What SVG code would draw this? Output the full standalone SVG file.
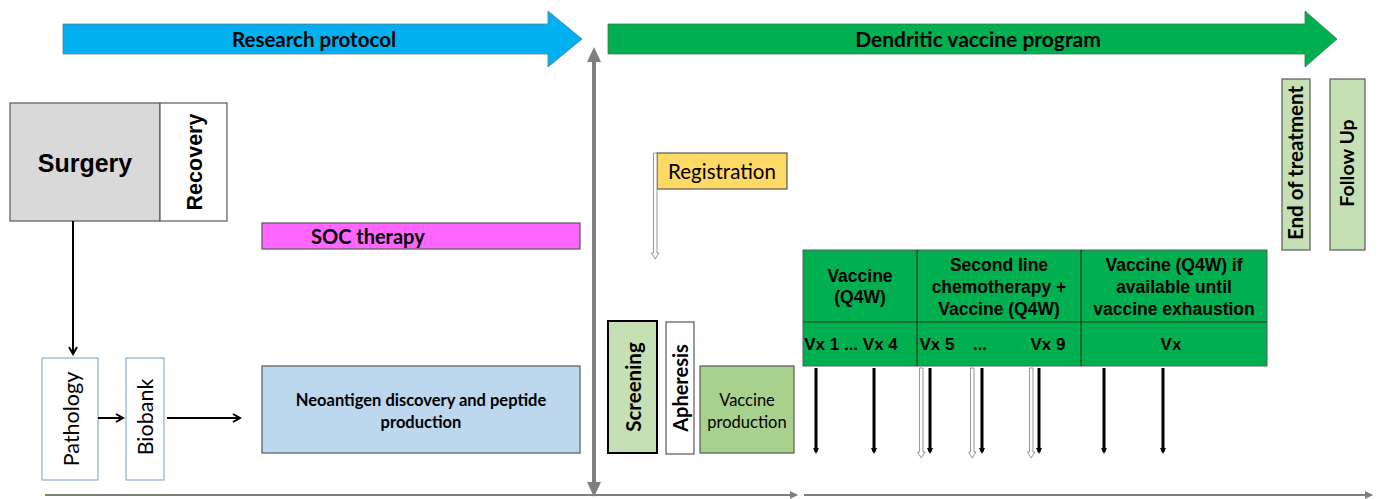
<svg xmlns="http://www.w3.org/2000/svg" width="1381" height="499" viewBox="0 0 1381 499">
<defs>
<style>
.a{font-family:"Liberation Sans",Arial,sans-serif}
.c{font-family:Lato,"Open Sans",sans-serif}
.b{font-weight:bold}
.box{stroke:#595959;stroke-width:1.2}
.hol{fill:#fff;stroke:#7f7f7f;stroke-width:0.8}
</style>
<marker id="ah" markerWidth="10" markerHeight="10" refX="8" refY="5" orient="auto" markerUnits="userSpaceOnUse"><path d="M1,1 L8,5 L1,9" fill="none" stroke="#000" stroke-width="2"/></marker>
<marker id="bt" markerWidth="8" markerHeight="8" refX="4" refY="4" orient="auto" markerUnits="userSpaceOnUse"><path d="M0,1 L6,4 L0,7 Z" fill="#000"/></marker>
<marker id="gt" markerWidth="10" markerHeight="10" refX="7" refY="5" orient="auto" markerUnits="userSpaceOnUse"><path d="M0,1 L8,5 L0,9 Z" fill="#7f7f7f"/></marker>
</defs>
<rect width="1381" height="499" fill="#fff"/>

<g id="research-protocol">
<path d="M63,24 H548 V11 L582,39 L548,67 V54 H63 Z" fill="#00b0f0" stroke="#5b7d93" stroke-width="0.8"/>
<text x="314" y="47" class="c b" font-size="20.5" text-anchor="middle">Research protocol</text>
</g>
<g id="dendritic-program">
<path d="M608,24 H1305 V11 L1337,39 L1305,67 V54 H608 Z" fill="#00b050" stroke="#3c7a4e" stroke-width="0.8"/>
<text x="978" y="47" class="c b" font-size="21" text-anchor="middle">Dendritic vaccine program</text>
</g>

<g id="surgery">
<rect x="10" y="103" width="150" height="118" fill="#d9d9d9" class="box"/>
<text x="85" y="172" class="a b" font-size="25" text-anchor="middle">Surgery</text>
</g>
<g id="recovery">
<rect x="160" y="103" width="67" height="118" fill="#fff" class="box"/>
<text transform="translate(202,162) rotate(-90)" class="a b" font-size="21.5" text-anchor="middle">Recovery</text>
</g>
<g id="pathology">
<rect x="42" y="358" width="56" height="122" fill="#fff" stroke="#8eaadb" stroke-width="1.2"/>
<text transform="translate(79,419) rotate(-90)" class="c" font-size="21.5" text-anchor="middle">Pathology</text>
</g>
<g id="biobank">
<rect x="126" y="358" width="38" height="122" fill="#fff" stroke="#8eaadb" stroke-width="1.2"/>
<text transform="translate(153,417) rotate(-90)" class="c" font-size="21.5" text-anchor="middle">Biobank</text>
</g>
<g id="soc-therapy">
<rect x="262" y="223" width="318" height="26" fill="#ff66ff" class="box"/>
<text x="311" y="244" class="c b" font-size="20">SOC therapy</text>
</g>
<g id="neoantigen">
<rect x="262" y="366" width="318" height="87" fill="#bdd7ee" class="box"/>
<text x="421" y="406" class="c b" font-size="16.5" text-anchor="middle">Neoantigen discovery and peptide</text>
<text x="421" y="428" class="c b" font-size="16.5" text-anchor="middle">production</text>
</g>
<g id="registration">
<rect x="657" y="153" width="130" height="36" fill="#ffd966" class="box"/>
<text x="722" y="179" class="c" font-size="20.5" text-anchor="middle">Registration</text>
</g>
<g id="screening">
<rect x="608" y="321" width="49" height="132" fill="#c5e0b4" stroke="#000" stroke-width="2"/>
<text transform="translate(641,387) rotate(-90)" class="c b" font-size="20.5" text-anchor="middle">Screening</text>
</g>
<g id="apheresis">
<rect x="666" y="322" width="28" height="132" fill="#fff" class="box"/>
<text transform="translate(688,388) rotate(-90)" class="c b" font-size="20" text-anchor="middle">Apheresis</text>
</g>
<g id="vaccine-production">
<rect x="700" y="366" width="94" height="87" fill="#a9d18e" class="box"/>
<text x="747" y="406" class="c" font-size="16.5" text-anchor="middle">Vaccine</text>
<text x="747" y="428" class="c" font-size="16.5" text-anchor="middle">production</text>
</g>
<g id="schedule-table">
<rect x="803" y="250" width="464" height="116" fill="#00b050" stroke="#595959" stroke-width="1"/>
<path d="M803,322 H1267 M917,250 V366 M1081,250 V366" stroke="#1a3a1a" stroke-width="1.2"/>
<g class="a b" font-size="17.5" text-anchor="middle">
<text x="860" y="282">Vaccine</text>
<text x="860" y="303">(Q4W)</text>
<text x="999" y="271">Second line</text>
<text x="999" y="293">chemotherapy +</text>
<text x="999" y="315">Vaccine (Q4W)</text>
<text x="1174" y="271">Vaccine (Q4W) if</text>
<text x="1174" y="293">available until</text>
<text x="1174" y="315">vaccine exhaustion</text>
</g>
<g class="a b" font-size="17" text-anchor="middle">
<text x="851" y="350">Vx 1 ... Vx 4</text>
<text x="937" y="350">Vx 5</text>
<text x="980" y="350">...</text>
<text x="1048" y="350">Vx 9</text>
<text x="1171" y="350">Vx</text>
</g>
</g>
<g id="end-of-treatment">
<rect x="1282" y="79" width="28" height="171" fill="#c5e0b4" class="box"/>
<text transform="translate(1303,163) rotate(-90)" class="c b" font-size="20.5" text-anchor="middle">End of treatment</text>
</g>
<g id="follow-up">
<rect x="1330" y="79" width="35" height="171" fill="#c5e0b4" class="box"/>
<text transform="translate(1354,163) rotate(-90)" class="c b" font-size="19.5" text-anchor="middle">Follow Up</text>
</g>

<g id="connectors">
<line x1="73" y1="221" x2="73" y2="354" stroke="#000" stroke-width="2" marker-end="url(#ah)"/>
<line x1="98" y1="418" x2="123" y2="418" stroke="#000" stroke-width="2" marker-end="url(#ah)"/>
<line x1="167" y1="418" x2="240" y2="418" stroke="#000" stroke-width="2" marker-end="url(#ah)"/>
<line x1="594" y1="60" x2="594" y2="486" stroke="#7f7f7f" stroke-width="4"/>
<path d="M594,47 L601,62 L587,62 Z M594,497 L601,482 L587,482 Z" fill="#7f7f7f"/>
<path d="M653.5,153 H657 V253 H659 L655.2,259 L651.5,253 H653.5 Z" class="hol"/>
<line x1="45" y1="495" x2="797" y2="495" stroke="#7f7f7f" stroke-width="2" marker-end="url(#gt)"/>
<line x1="804" y1="495" x2="1372" y2="495" stroke="#7f7f7f" stroke-width="2" marker-end="url(#gt)"/>
<g stroke="#000" stroke-width="3">
<line x1="816" y1="368" x2="816" y2="452" marker-end="url(#bt)"/>
<line x1="874" y1="368" x2="874" y2="452" marker-end="url(#bt)"/>
<line x1="930" y1="368" x2="930" y2="452" marker-end="url(#bt)"/>
<line x1="982" y1="368" x2="982" y2="452" marker-end="url(#bt)"/>
<line x1="1039" y1="368" x2="1039" y2="452" marker-end="url(#bt)"/>
<line x1="1104" y1="368" x2="1104" y2="452" marker-end="url(#bt)"/>
<line x1="1163" y1="368" x2="1163" y2="452" marker-end="url(#bt)"/>
</g>
<path d="M919.5,368 H923 V452 H925 L921.2,458 L917.5,452 H919.5 Z" class="hol"/>
<path d="M970.5,368 H974 V452 H976 L972.2,458 L968.5,452 H970.5 Z" class="hol"/>
<path d="M1029.5,368 H1033 V452 H1035 L1031.2,458 L1027.5,452 H1029.5 Z" class="hol"/>
</g>
</svg>
